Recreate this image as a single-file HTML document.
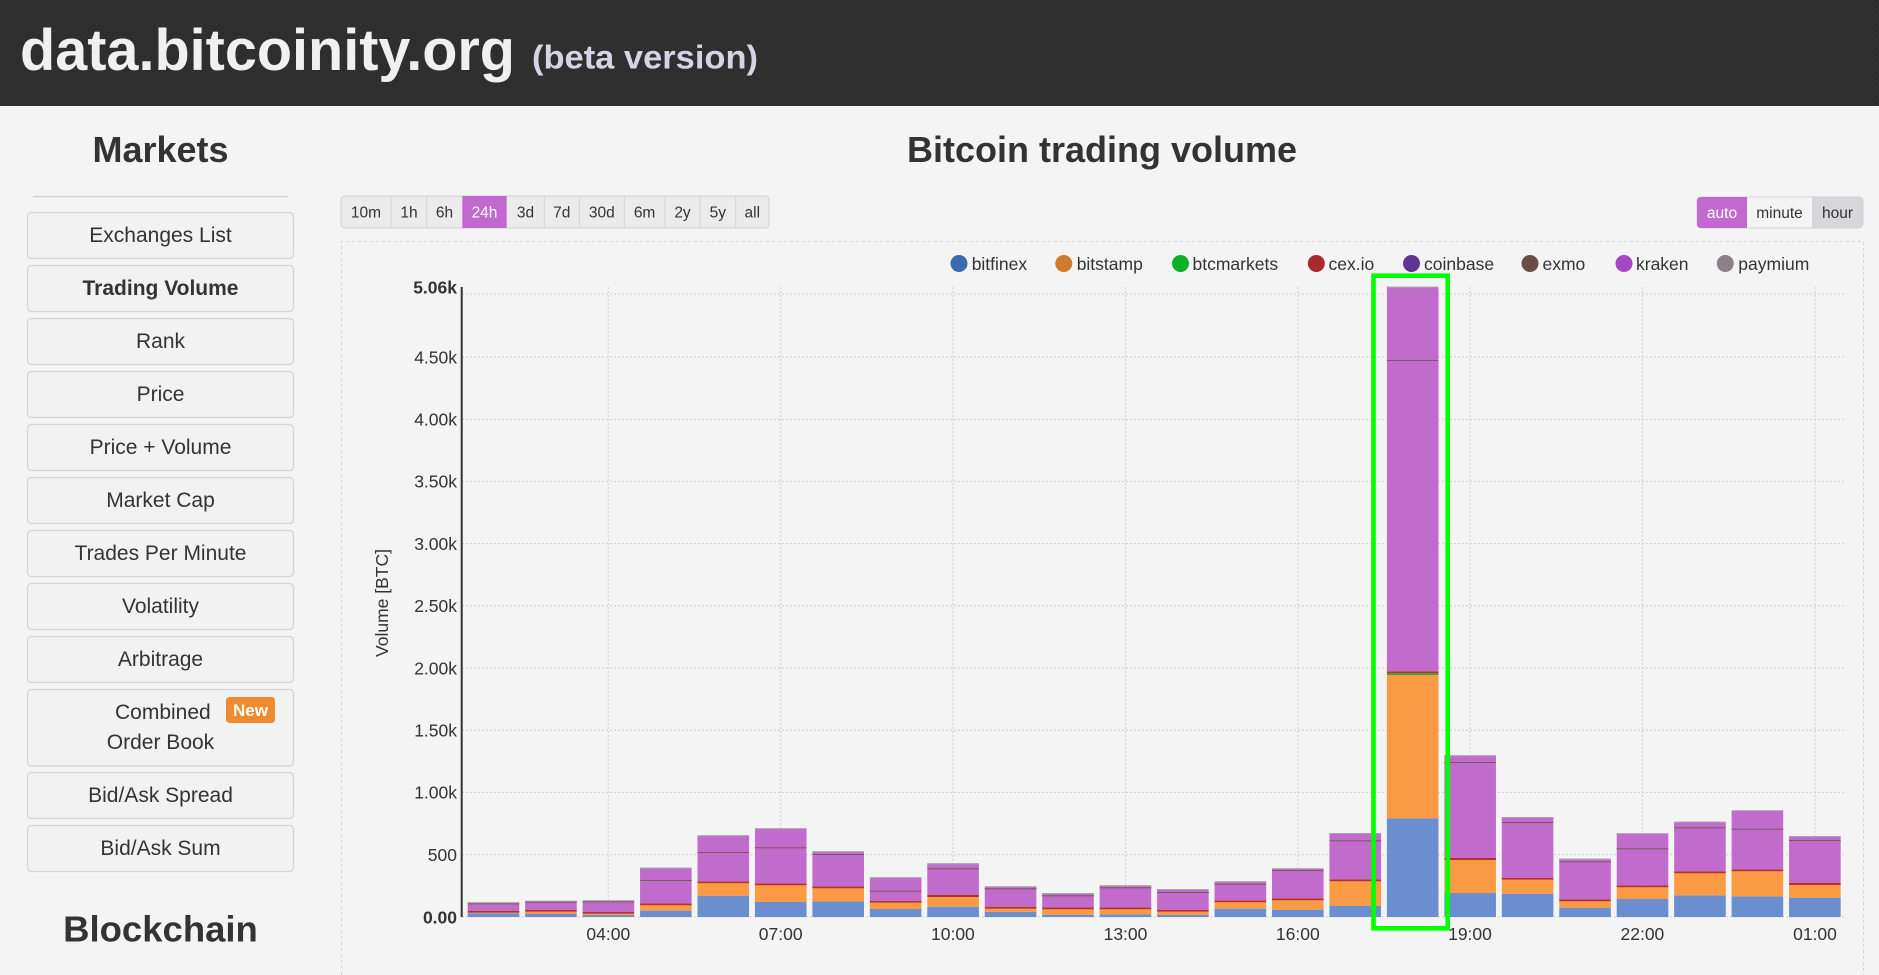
<!DOCTYPE html>
<html><head><meta charset="utf-8"><style>
html,body{margin:0;padding:0;background:#f4f4f4;}
body{width:1879px;height:975px;overflow:hidden;position:relative;font-family:"Liberation Sans",Arial,sans-serif;}
svg{display:block;position:absolute;left:0;top:0;}
text{font-family:"Liberation Sans",Arial,sans-serif;}
.b{fill:#6a8ecf}.o{fill:#fa9a42}.r{fill:#b5302f}.p{fill:#c16ccc}.d{fill:#7a5656}.t{fill:#a8a2aa}.g{fill:#12b82a}
.grid{stroke:#cfcfd6;stroke-width:1;stroke-dasharray:2 2;}
.yl{font-size:17.5px;fill:#333;text-anchor:end;}
.xl{font-size:17.5px;fill:#333;text-anchor:middle;}
.lg{font-size:17.5px;fill:#333;}
.sb{fill:#f2f2f2;stroke:#d4d4d9;stroke-width:1.2;}
.st{font-size:21px;fill:#333;text-anchor:middle;}
.tb{font-size:15.5px;fill:#333;text-anchor:middle;}
</style></head><body>
<svg width="1879" height="975" viewBox="0 0 1879 975" xmlns="http://www.w3.org/2000/svg">
<defs>
<pattern id="hdr" width="6" height="6" patternUnits="userSpaceOnUse"><rect width="6" height="6" fill="#2e2e2e"/><rect x="0" y="0" width="1" height="1" fill="#3a3a3a"/><rect x="3" y="3" width="1" height="1" fill="#353535"/></pattern>
</defs>
<rect x="0" y="0" width="1879" height="975" fill="#f4f4f4"/>
<!-- header -->
<rect x="0" y="0" width="1879" height="106" fill="url(#hdr)"/>
<text x="20" y="70" font-size="58" font-weight="bold" fill="#f0f0f0" textLength="495" lengthAdjust="spacingAndGlyphs">data.bitcoinity.org</text>
<text x="532" y="68.5" font-size="33" font-weight="bold" fill="#d4d4e4" textLength="226" lengthAdjust="spacingAndGlyphs">(beta version)</text>

<!-- sidebar -->
<text x="160.5" y="162" font-size="36" font-weight="bold" fill="#333" text-anchor="middle">Markets</text>
<line x1="33" y1="196.5" x2="288" y2="196.5" stroke="#d2d2d6" stroke-width="1.5"/>
<rect class="sb" x="27.5" y="212.5" width="266" height="46" rx="4"/>
<text class="st" x="160.5" y="242">Exchanges List</text>
<rect class="sb" x="27.5" y="265.5" width="266" height="46" rx="4"/>
<text class="st" x="160.5" y="295" font-weight="bold">Trading Volume</text>
<rect class="sb" x="27.5" y="318.5" width="266" height="46" rx="4"/>
<text class="st" x="160.5" y="348">Rank</text>
<rect class="sb" x="27.5" y="371.5" width="266" height="46" rx="4"/>
<text class="st" x="160.5" y="401">Price</text>
<rect class="sb" x="27.5" y="424.5" width="266" height="46" rx="4"/>
<text class="st" x="160.5" y="454">Price + Volume</text>
<rect class="sb" x="27.5" y="477.5" width="266" height="46" rx="4"/>
<text class="st" x="160.5" y="507">Market Cap</text>
<rect class="sb" x="27.5" y="530.5" width="266" height="46" rx="4"/>
<text class="st" x="160.5" y="560">Trades Per Minute</text>
<rect class="sb" x="27.5" y="583.5" width="266" height="46" rx="4"/>
<text class="st" x="160.5" y="613">Volatility</text>
<rect class="sb" x="27.5" y="636.5" width="266" height="46" rx="4"/>
<text class="st" x="160.5" y="666">Arbitrage</text>
<rect class="sb" x="27.5" y="689.5" width="266" height="76.5" rx="4"/>
<text x="115" y="719" font-size="21" fill="#333">Combined</text>
<rect x="226" y="697" width="49" height="26" rx="3.5" fill="#f08a2e"/>
<text x="250.5" y="716" font-size="17" font-weight="bold" fill="#fff" text-anchor="middle">New</text>
<text class="st" x="160.5" y="749">Order Book</text>
<rect class="sb" x="27.5" y="772.5" width="266" height="46" rx="4"/>
<text class="st" x="160.5" y="802">Bid/Ask Spread</text>
<rect class="sb" x="27.5" y="825.5" width="266" height="46" rx="4"/>
<text class="st" x="160.5" y="855">Bid/Ask Sum</text>
<text x="160.5" y="941.5" font-size="36.5" font-weight="bold" fill="#333" text-anchor="middle">Blockchain</text>

<!-- main title -->
<text x="1102" y="162" font-size="36" font-weight="bold" fill="#333" text-anchor="middle">Bitcoin trading volume</text>

<!-- range buttons -->
<rect x="341" y="196" width="428" height="32" rx="4" fill="#ebebeb" stroke="#d2d2d6" stroke-width="1"/>
<rect x="462.3" y="196" width="44.4" height="32" fill="#c169cf"/>
<g stroke="#d6d6da" stroke-width="1">
<line x1="391" y1="197" x2="391" y2="227"/><line x1="426.7" y1="197" x2="426.7" y2="227"/>
<line x1="544.3" y1="197" x2="544.3" y2="227"/><line x1="579.3" y1="197" x2="579.3" y2="227"/>
<line x1="624.3" y1="197" x2="624.3" y2="227"/><line x1="665" y1="197" x2="665" y2="227"/>
<line x1="700" y1="197" x2="700" y2="227"/><line x1="735.7" y1="197" x2="735.7" y2="227"/>
</g>
<text class="tb" x="366" y="217.5">10m</text>
<text class="tb" x="409" y="217.5">1h</text>
<text class="tb" x="444.5" y="217.5">6h</text>
<text class="tb" x="484.5" y="217.5" style="fill:#fff">24h</text>
<text class="tb" x="525.5" y="217.5">3d</text>
<text class="tb" x="561.8" y="217.5">7d</text>
<text class="tb" x="601.8" y="217.5">30d</text>
<text class="tb" x="644.6" y="217.5">6m</text>
<text class="tb" x="682.5" y="217.5">2y</text>
<text class="tb" x="717.8" y="217.5">5y</text>
<text class="tb" x="752.3" y="217.5">all</text>

<!-- auto/minute/hour -->
<rect x="1697" y="197" width="166" height="31" rx="4" fill="#f4f4f4" stroke="#d2d2d6" stroke-width="1"/>
<path d="M1701 197 H1747 V228 H1701 Q1697 228 1697 224 V201 Q1697 197 1701 197 Z" fill="#c169cf"/>
<rect x="1812" y="197.5" width="50.5" height="30" fill="#d7d7d9"/>
<text class="tb" x="1722" y="218" style="fill:#fff">auto</text>
<text class="tb" x="1779.5" y="218">minute</text>
<text class="tb" x="1837.5" y="218">hour</text>

<!-- chart panel (open at bottom) -->
<path d="M341.5 975 V241.5 H1863.5 V975" fill="none" stroke="#d6d6d8" stroke-width="1" stroke-dasharray="3 3"/>

<!-- legend -->
<circle cx="959" cy="263.5" r="8.5" fill="#3a6aaf"/><text class="lg" x="971.7" y="269.8">bitfinex</text>
<circle cx="1063.8" cy="263.5" r="8.5" fill="#d07c2c"/><text class="lg" x="1076.7" y="269.8">bitstamp</text>
<circle cx="1180.5" cy="263.5" r="8.5" fill="#0cb32a"/><text class="lg" x="1192.5" y="269.8">btcmarkets</text>
<circle cx="1316.3" cy="263.5" r="8.5" fill="#a82a2a"/><text class="lg" x="1328.5" y="269.8">cex.io</text>
<circle cx="1411.5" cy="263.5" r="8.5" fill="#5e3494"/><text class="lg" x="1424" y="269.8">coinbase</text>
<circle cx="1530" cy="263.5" r="8.5" fill="#6c4c46"/><text class="lg" x="1542.5" y="269.8">exmo</text>
<circle cx="1624" cy="263.5" r="8.5" fill="#a448c4"/><text class="lg" x="1636" y="269.8">kraken</text>
<circle cx="1725.3" cy="263.5" r="8.5" fill="#8c8088"/><text class="lg" x="1738.3" y="269.8">paymium</text>

<!-- grid -->
<g class="grid">
<line x1="462" y1="917" x2="1846" y2="917"/>
<line x1="462" y1="854.7" x2="1846" y2="854.7"/>
<line x1="462" y1="792.4" x2="1846" y2="792.4"/>
<line x1="462" y1="730.2" x2="1846" y2="730.2"/>
<line x1="462" y1="668" x2="1846" y2="668"/>
<line x1="462" y1="605.8" x2="1846" y2="605.8"/>
<line x1="462" y1="543.6" x2="1846" y2="543.6"/>
<line x1="462" y1="481.4" x2="1846" y2="481.4"/>
<line x1="462" y1="419.2" x2="1846" y2="419.2"/>
<line x1="462" y1="357" x2="1846" y2="357"/>
<line x1="462" y1="294" x2="1846" y2="294"/>
<line x1="608.3" y1="287" x2="608.3" y2="917"/>
<line x1="780.7" y1="287" x2="780.7" y2="917"/>
<line x1="952.9" y1="287" x2="952.9" y2="917"/>
<line x1="1125.5" y1="287" x2="1125.5" y2="917"/>
<line x1="1297.8" y1="287" x2="1297.8" y2="917"/>
<line x1="1470" y1="287" x2="1470" y2="917"/>
<line x1="1642.4" y1="287" x2="1642.4" y2="917"/>
<line x1="1815" y1="287" x2="1815" y2="917"/>
</g>

<!-- y labels -->
<text class="yl" x="457" y="293.3" font-weight="bold">5.06k</text>
<text class="yl" x="457" y="363.3">4.50k</text>
<text class="yl" x="457" y="425.5">4.00k</text>
<text class="yl" x="457" y="487.7">3.50k</text>
<text class="yl" x="457" y="549.9">3.00k</text>
<text class="yl" x="457" y="612.1">2.50k</text>
<text class="yl" x="457" y="674.3">2.00k</text>
<text class="yl" x="457" y="736.5">1.50k</text>
<text class="yl" x="457" y="798.7">1.00k</text>
<text class="yl" x="457" y="861">500</text>
<text class="yl" x="457" y="923.3" font-weight="bold">0.00</text>
<text x="0" y="0" font-size="17.5" fill="#333" text-anchor="middle" transform="translate(388,603) rotate(-90)">Volume [BTC]</text>

<!-- x labels -->
<text class="xl" x="608.3" y="940">04:00</text>
<text class="xl" x="780.7" y="940">07:00</text>
<text class="xl" x="952.9" y="940">10:00</text>
<text class="xl" x="1125.5" y="940">13:00</text>
<text class="xl" x="1297.8" y="940">16:00</text>
<text class="xl" x="1470" y="940">19:00</text>
<text class="xl" x="1642.4" y="940">22:00</text>
<text class="xl" x="1815" y="940">01:00</text>

<!-- bars -->
<g transform="translate(467.7,0)"><rect class="b" width="51.6" y="913.3" height="3.7"/><rect class="o" width="51.6" y="912.7" height="0.6"/><rect class="r" width="51.6" y="910.7" height="2"/><rect class="p" width="51.6" y="902.3" height="8.4"/><rect class="d" width="51.6" y="903.3" height="1"/><rect class="t" width="51.6" y="902.3" height="1"/></g>
<g transform="translate(525.15,0)"><rect class="b" width="51.6" y="914" height="3"/><rect class="o" width="51.6" y="911.7" height="2.3"/><rect class="r" width="51.6" y="909.7" height="2"/><rect class="p" width="51.6" y="900.7" height="9"/><rect class="d" width="51.6" y="901.7" height="1"/><rect class="t" width="51.6" y="900.7" height="1"/></g>
<g transform="translate(582.6,0)"><rect class="b" width="51.6" y="915" height="2"/><rect class="o" width="51.6" y="913.7" height="1.3"/><rect class="r" width="51.6" y="911.7" height="2"/><rect class="p" width="51.6" y="900.3" height="11.4"/><rect class="d" width="51.6" y="901.3" height="1"/><rect class="t" width="51.6" y="900.3" height="1"/></g>
<g transform="translate(640.05,0)"><rect class="b" width="51.6" y="910.7" height="6.3"/><rect class="o" width="51.6" y="905.3" height="5.4"/><rect class="r" width="51.6" y="903.3" height="2"/><rect class="p" width="51.6" y="867.7" height="35.6"/><rect class="d" width="51.6" y="880" height="1"/><rect class="t" width="51.6" y="867.7" height="1"/></g>
<g transform="translate(697.5,0)"><rect class="b" width="51.6" y="895.7" height="21.3"/><rect class="o" width="51.6" y="883.3" height="12.4"/><rect class="r" width="51.6" y="881.3" height="2"/><rect class="p" width="51.6" y="835.3" height="46"/><rect class="d" width="51.6" y="852" height="1"/><rect class="t" width="51.6" y="835.3" height="1"/></g>
<g transform="translate(754.95,0)"><rect class="b" width="51.6" y="902" height="15"/><rect class="o" width="51.6" y="885.3" height="16.7"/><rect class="r" width="51.6" y="883.3" height="2"/><rect class="p" width="51.6" y="828.3" height="55"/><rect class="d" width="51.6" y="847.3" height="1"/><rect class="t" width="51.6" y="828.3" height="1"/></g>
<g transform="translate(812.4,0)"><rect class="b" width="51.6" y="901.3" height="15.7"/><rect class="o" width="51.6" y="888.3" height="13"/><rect class="r" width="51.6" y="886.3" height="2"/><rect class="p" width="51.6" y="851.3" height="35"/><rect class="d" width="51.6" y="854" height="1"/><rect class="t" width="51.6" y="851.3" height="1"/></g>
<g transform="translate(869.85,0)"><rect class="b" width="51.6" y="909" height="8"/><rect class="o" width="51.6" y="902.7" height="6.3"/><rect class="r" width="51.6" y="900.7" height="2"/><rect class="p" width="51.6" y="877.3" height="23.4"/><rect class="d" width="51.6" y="890.7" height="1"/><rect class="t" width="51.6" y="877.3" height="1"/></g>
<g transform="translate(927.3,0)"><rect class="b" width="51.6" y="906.7" height="10.3"/><rect class="o" width="51.6" y="897" height="9.7"/><rect class="r" width="51.6" y="895" height="2"/><rect class="p" width="51.6" y="863.3" height="31.7"/><rect class="d" width="51.6" y="868.3" height="1"/><rect class="t" width="51.6" y="863.3" height="1"/></g>
<g transform="translate(984.75,0)"><rect class="b" width="51.6" y="911.7" height="5.3"/><rect class="o" width="51.6" y="908.7" height="3"/><rect class="r" width="51.6" y="906.7" height="2"/><rect class="p" width="51.6" y="886.3" height="20.4"/><rect class="d" width="51.6" y="888.3" height="1"/><rect class="t" width="51.6" y="886.3" height="1"/></g>
<g transform="translate(1042.2,0)"><rect class="b" width="51.6" y="914.7" height="2.3"/><rect class="o" width="51.6" y="909.3" height="5.4"/><rect class="r" width="51.6" y="907.3" height="2"/><rect class="p" width="51.6" y="893" height="14.3"/><rect class="d" width="51.6" y="895.3" height="1"/><rect class="t" width="51.6" y="893" height="1"/></g>
<g transform="translate(1099.65,0)"><rect class="b" width="51.6" y="914.3" height="2.7"/><rect class="o" width="51.6" y="909.3" height="5"/><rect class="r" width="51.6" y="907.3" height="2"/><rect class="p" width="51.6" y="885.3" height="22"/><rect class="d" width="51.6" y="887.3" height="1"/><rect class="t" width="51.6" y="885.3" height="1"/></g>
<g transform="translate(1157.1,0)"><rect class="b" width="51.6" y="915" height="2"/><rect class="o" width="51.6" y="911.7" height="3.3"/><rect class="r" width="51.6" y="909.7" height="2"/><rect class="p" width="51.6" y="889" height="20.7"/><rect class="d" width="51.6" y="892" height="1"/><rect class="t" width="51.6" y="889" height="1"/></g>
<g transform="translate(1214.55,0)"><rect class="b" width="51.6" y="908.7" height="8.3"/><rect class="o" width="51.6" y="902.3" height="6.4"/><rect class="r" width="51.6" y="900.3" height="2"/><rect class="p" width="51.6" y="881.3" height="19"/><rect class="d" width="51.6" y="883.7" height="1"/><rect class="t" width="51.6" y="881.3" height="1"/></g>
<g transform="translate(1272,0)"><rect class="b" width="51.6" y="909.7" height="7.3"/><rect class="o" width="51.6" y="900.3" height="9.4"/><rect class="r" width="51.6" y="898.3" height="2"/><rect class="p" width="51.6" y="868.3" height="30"/><rect class="d" width="51.6" y="870" height="1"/><rect class="t" width="51.6" y="868.3" height="1"/></g>
<g transform="translate(1329.45,0)"><rect class="b" width="51.6" y="905.7" height="11.3"/><rect class="o" width="51.6" y="881.3" height="24.4"/><rect class="r" width="51.6" y="879.3" height="2"/><rect class="p" width="51.6" y="833" height="46.3"/><rect class="d" width="51.6" y="840.3" height="1"/><rect class="t" width="51.6" y="833" height="1"/></g>
<g transform="translate(1386.9,0)"><rect class="b" width="51.6" y="818.3" height="98.7"/><rect class="o" width="51.6" y="675" height="143.3"/><rect class="g" width="51.6" y="673.3" height="1.7"/><rect class="r" width="51.6" y="671.3" height="2"/><rect class="p" width="51.6" y="286.7" height="384.6"/><rect class="d" width="51.6" y="360" height="1"/><rect class="t" width="51.6" y="286.7" height="1"/></g>
<g transform="translate(1444.35,0)"><rect class="b" width="51.6" y="893" height="24"/><rect class="o" width="51.6" y="860" height="33"/><rect class="r" width="51.6" y="858" height="2"/><rect class="p" width="51.6" y="755.3" height="102.7"/><rect class="d" width="51.6" y="762" height="1"/><rect class="t" width="51.6" y="755.3" height="1"/></g>
<g transform="translate(1501.8,0)"><rect class="b" width="51.6" y="893.7" height="23.3"/><rect class="o" width="51.6" y="879.7" height="14"/><rect class="r" width="51.6" y="877.7" height="2"/><rect class="p" width="51.6" y="817" height="60.7"/><rect class="d" width="51.6" y="822" height="1"/><rect class="t" width="51.6" y="817" height="1"/></g>
<g transform="translate(1559.25,0)"><rect class="b" width="51.6" y="907.7" height="9.3"/><rect class="o" width="51.6" y="901.3" height="6.4"/><rect class="r" width="51.6" y="899.3" height="2"/><rect class="p" width="51.6" y="858.7" height="40.6"/><rect class="d" width="51.6" y="861.3" height="1"/><rect class="t" width="51.6" y="858.7" height="1"/></g>
<g transform="translate(1616.7,0)"><rect class="b" width="51.6" y="899" height="18"/><rect class="o" width="51.6" y="887.3" height="11.7"/><rect class="r" width="51.6" y="885.3" height="2"/><rect class="p" width="51.6" y="833.3" height="52"/><rect class="d" width="51.6" y="848.3" height="1"/><rect class="t" width="51.6" y="833.3" height="1"/></g>
<g transform="translate(1674.15,0)"><rect class="b" width="51.6" y="895.3" height="21.7"/><rect class="o" width="51.6" y="873.3" height="22"/><rect class="r" width="51.6" y="871.3" height="2"/><rect class="p" width="51.6" y="821.7" height="49.6"/><rect class="d" width="51.6" y="827.3" height="1"/><rect class="t" width="51.6" y="821.7" height="1"/></g>
<g transform="translate(1731.6,0)"><rect class="b" width="51.6" y="896.3" height="20.7"/><rect class="o" width="51.6" y="871.3" height="25"/><rect class="r" width="51.6" y="869.3" height="2"/><rect class="p" width="51.6" y="810.3" height="59"/><rect class="d" width="51.6" y="828.7" height="1"/><rect class="t" width="51.6" y="810.3" height="1"/></g>
<g transform="translate(1789.05,0)"><rect class="b" width="51.6" y="897.7" height="19.3"/><rect class="o" width="51.6" y="885" height="12.7"/><rect class="r" width="51.6" y="883" height="2"/><rect class="p" width="51.6" y="836" height="47"/><rect class="d" width="51.6" y="840" height="1"/><rect class="t" width="51.6" y="836" height="1"/></g>

<!-- y axis line -->
<line x1="461.7" y1="287" x2="461.7" y2="917" stroke="#333" stroke-width="2"/>

<!-- highlight -->
<rect x="1373.5" y="275.7" width="74.2" height="652.6" fill="none" stroke="#00ff00" stroke-width="4.6"/>
</svg>
</body></html>
